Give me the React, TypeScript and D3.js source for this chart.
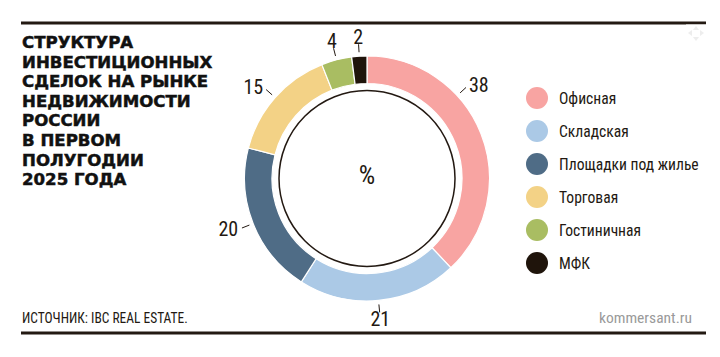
import React from "react";
import * as d3 from "d3";

const categories = ["Офисная", "Складская", "Площадки под жилье", "Торговая", "Гостиничная", "МФК"];
const values = [38, 21, 20, 15, 4, 2];
const colors = ["#f8a4a2", "#abc9e6", "#4f6c86", "#f3d286", "#a9bd62", "#1f140b"];
const titleLines = [
  "СТРУКТУРА",
  "ИНВЕСТИЦИОННЫХ",
  "СДЕЛОК НА РЫНКЕ",
  "НЕДВИЖИМОСТИ",
  "РОССИИ",
  "В ПЕРВОМ",
  "ПОЛУГОДИИ",
  "2025 ГОДА",
];
const sourceText = "ИСТОЧНИК: IBC REAL ESTATE.";
const brandText = "kommersant.ru";
const centerText = "%";

const W = 720;
const H = 357;
const INK = "#231912";
const NARROW = "'Liberation Sans Narrow', 'Roboto Condensed', 'Arial Narrow', sans-serif";

export default function App() {
  const cx = 367;
  const cy = 178.5;
  const outerR = 122.5;
  const innerR = 95;
  const labelNudgeDeg: Record<string, number> = { "Офисная": -21 };

  const pie = d3.pie<number>().sort(null).value((d) => d);
  const arcs = pie(values);
  const arcGen = d3.arc<d3.PieArcDatum<number>>().innerRadius(innerR).outerRadius(outerR);

  const legendY = d3.scalePoint<string>().domain(categories).range([98, 263]);

  return (
    <svg
      width={W}
      height={H}
      viewBox={`0 0 ${W} ${H}`}
      style={{ position: "absolute", left: 0, top: 0, background: "#fff" }}
    >
      <rect x={0} y={0} width={W} height={H} fill="#fff" />
      {/* top rule */}
      <line x1={21} x2={706} y1={23} y2={23} stroke={INK} strokeWidth={3} />
      {/* faint expand icon */}
      <g transform="translate(696,33)" opacity={0.5}>
        <rect x={-10} y={-9} width={20} height={19} fill="#fff" />
        <path d="M0,-7 L-3,-3 L3,-3 Z M0,8 L-3,4 L3,4 Z M-8,0 L-4,-3 L-4,3 Z M8,0 L4,-3 L4,3 Z" fill="#ddd" />
      </g>
      {/* title */}
      <text
        fontFamily="'DejaVu Sans', sans-serif"
        fontWeight={900}
        fontSize={16.6}
        fill="#111"
        stroke="#111"
        strokeWidth={0.5}
      >
        {titleLines.map((l, i) => (
          <tspan key={i} x={22} y={48 + i * 19.6}>
            {l}
          </tspan>
        ))}
      </text>

      {/* donut */}
      <g transform={`translate(${cx},${cy})`}>
        {arcs.map((a, i) => (
          <path key={i} d={arcGen(a) || ""} fill={colors[i]} stroke="#fff" strokeWidth={1.2} />
        ))}
        <circle r={88} fill="none" stroke={INK} strokeWidth={1.5} />
        <text
          x={0}
          y={-4}
          textAnchor="middle"
          dominantBaseline="central"
          fontFamily={NARROW}
          fontSize={26}
          fill={INK}
        >
          {centerText}
        </text>
        {arcs.map((a, i) => {
          const mid = (a.startAngle + a.endAngle) / 2 + ((labelNudgeDeg[categories[i]] || 0) * Math.PI) / 180;
          const s = Math.sin(mid);
          const c = -Math.cos(mid);
          const r1 = outerR + 4;
          const r2 = outerR + 12;
          const rt = Math.abs(s) < 0.3 ? outerR + 19 : outerR + 16;
          const anchor = Math.abs(s) < 0.3 ? "middle" : s > 0 ? "start" : "end";
          return (
            <g key={i}>
              <line x1={s * r1} y1={c * r1} x2={s * r2} y2={c * r2} stroke={INK} strokeWidth={1} />
              <text
                x={s * rt}
                y={c * rt}
                textAnchor={anchor}
                dominantBaseline="central"
                fontFamily={NARROW}
                fontSize={20}
                fill={INK}
              >
                {values[i]}
              </text>
            </g>
          );
        })}
      </g>

      {/* legend */}
      {categories.map((cat, i) => (
        <g key={cat} transform={`translate(537,${legendY(cat)})`}>
          <circle r={11} fill={colors[i]} />
          <text
            transform="translate(22,0) scale(0.945,1)"
            dominantBaseline="central"
            fontFamily={NARROW}
            fontSize={16.5}
            fill={INK}
          >
            {cat}
          </text>
        </g>
      ))}

      {/* footer */}
      <text transform="translate(22,323) scale(0.927,1)" fontFamily={NARROW} fontSize={14.5} fill={INK}>
        {sourceText}
      </text>
      <text x={692} y={323} textAnchor="end" fontFamily={NARROW} fontSize={15.5} fill="#9a9a9a">
        {brandText}
      </text>
      <line x1={21} x2={706} y1={333} y2={333} stroke={INK} strokeWidth={3} />
    </svg>
  );
}
